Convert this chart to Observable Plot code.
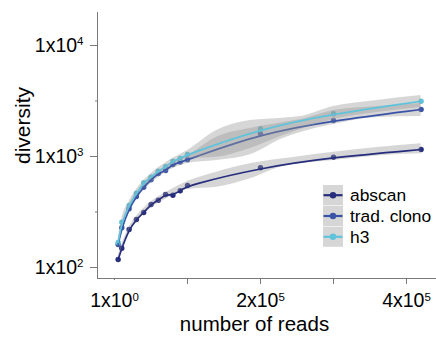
<!DOCTYPE html>
<html><head><meta charset="utf-8">
<script src="https://cdn.jsdelivr.net/npm/d3@7"></script>
<script src="https://cdn.jsdelivr.net/npm/@observablehq/plot@0.6"></script>
<style>
body{margin:0;background:#fff;}
#chart{width:436px;height:338px;}
</style>
</head><body><div id="chart"></div>
<script>
// ---- data ----
const seriesNames = ["abscan", "trad. clono", "h3"];
const seriesColors = ["#262d7d", "#3a53a6", "#5fc3db"];

const reads = [5000, 10000, 20000, 30000, 40000, 50000, 60000, 70000, 80000, 90000, 100000, 200000, 300000, 420000];
const abscan    = [118, 149, 220, 271, 313, 370, 404, 455, 448, 491, 548, 791, 986, 1156];
const tradClono = [161, 228, 338, 436, 529, 617, 703, 748, 847, 890, 934, 1601, 2110, 2650];
const h3        = [168, 256, 362, 467, 580, 651, 738, 810, 907, 960, 1042, 1776, 2425, 3148];

// confidence band (smoother) edges
const bandReads = [5000, 10000, 20000, 35000, 50000, 75000, 100000, 140000, 186000, 231000, 255000, 300000, 360000, 420000];
const abscanLo = [109, 140, 201, 276, 341, 430, 505, 529, 630, 813, 859, 920, 1011, 1057];
const abscanHi = [128, 161, 230, 315, 390, 492, 595, 722, 859, 953, 1000, 1093, 1205, 1301];
const tradLo   = [149, 213, 316, 449, 570, 748, 865, 920, 1035, 1452, 1644, 1943, 2245, 2292];
const tradHi   = [172, 244, 362, 514, 653, 856, 1021, 1493, 1786, 2023, 2153, 2596, 2820, 3000];
const h3Lo     = [157, 239, 341, 486, 612, 804, 959, 986, 1180, 1546, 1750, 2154, 2489, 2760];
const h3Hi     = [180, 274, 391, 556, 701, 920, 1133, 1715, 2110, 2213, 2292, 2820, 3199, 3545];

const xTicksLabeled = [1, 200000, 400000];
const xTickLabels = ["1x10^0", "2x10^5", "4x10^5"];
const xTicksMinor = [100000, 300000];
const yTicksLabeled = [100, 1000, 10000];
const yTickLabels = ["1x10^2", "1x10^3", "1x10^4"];
const yTicksMinor = [316.2, 3162];
const xDomain = [-23300, 441100];
const yDomain = [79.6, 19830];
const xTitle = "number of reads";
const yTitle = "diversity";

// ---- tables ----
const values = [abscan, tradClono, h3];
const los = [abscanLo, tradLo, h3Lo];
const his = [abscanHi, tradHi, h3Hi];
const points = seriesNames.flatMap((s, i) => reads.map((r, j) => ({series: s, reads: r, value: values[i][j]})));
const bands = seriesNames.flatMap((s, i) => bandReads.map((r, j) => ({series: s, reads: r, lo: los[i][j], hi: his[i][j]})));

const font = "'Liberation Sans', Arial, Helvetica, sans-serif";
const axisGray = "#7a7a7a";

const smoothMarks = seriesNames.flatMap((s, i) => [
  Plot.areaY(bands.filter(d => d.series === s), {x: "reads", y1: "lo", y2: "hi", fill: "#999", fillOpacity: 0.4, curve: "monotone-x"}),
  Plot.line(points.filter(d => d.series === s), {x: "reads", y: "value", stroke: seriesColors[i], strokeWidth: 1.7, curve: "basis"})
]);

const chart = Plot.plot({
  width: 436, height: 338,
  marginLeft: 97, marginRight: 0, marginTop: 12, marginBottom: 60,
  style: {fontFamily: font, background: "#fff", color: "black"},
  x: {type: "linear", domain: xDomain, label: null},
  y: {type: "log", domain: yDomain, label: null},
  color: {domain: seriesNames, range: seriesColors},
  marks: [
    Plot.dot(points, {x: "reads", y: "value", fill: "series", r: 2.7}),
    ...smoothMarks,
    Plot.ruleX([xDomain[0]], {stroke: axisGray}),
    Plot.ruleY([yDomain[0]], {stroke: axisGray}),
    Plot.axisY(yTicksLabeled, {tickSize: 7, tickPadding: 7, fontSize: 19.5, stroke: axisGray, fill: "black",
      tickFormat: d => yTickLabels[yTicksLabeled.indexOf(d)]}),
    Plot.axisY(yTicksMinor, {tickSize: 2, stroke: axisGray, tickFormat: () => ""}),
    Plot.axisX(xTicksLabeled.slice(1), {tickSize: 6, tickPadding: 9, fontSize: 19.5, stroke: axisGray, fill: "black",
      tickFormat: d => xTickLabels[xTicksLabeled.indexOf(d)]}),
    Plot.axisX(xTicksLabeled.slice(0, 1), {tickSize: 2, tickPadding: 13, fontSize: 19.5, stroke: axisGray, fill: "black",
      tickFormat: d => xTickLabels[xTicksLabeled.indexOf(d)]}),
    Plot.axisX(xTicksMinor, {tickSize: 6, stroke: axisGray, tickFormat: () => ""}),
    Plot.text([yTitle], {frameAnchor: "left", rotate: -90, dx: -74, dy: -20, fontSize: 21, textAnchor: "middle", lineAnchor: "middle", fill: "black"}),
    Plot.text([xTitle], {frameAnchor: "bottom", dx: -12.5, dy: 46, fontSize: 20.5, textAnchor: "middle", lineAnchor: "middle", fill: "black"})
  ]
});
document.getElementById("chart").appendChild(chart);

// superscripts in tick labels
d3.select(chart).selectAll("text").each(function() {
  const t = this.textContent;
  if (!t.includes("^")) return;
  const [base, sup] = t.split("^");
  const child = this.querySelector("tspan");
  if (child && child.getAttribute("dy") && !this.getAttribute("dy")) this.setAttribute("dy", child.getAttribute("dy"));
  this.textContent = "";
  const sel = d3.select(this);
  sel.append("tspan").text(base);
  sel.append("tspan").attr("dy", -6.5).attr("font-size", 11.5).text(sup);
});

// legend
const lg = d3.select(chart).append("g").attr("transform", "translate(323,185)")
  .attr("font-family", font).attr("text-anchor", "start");
seriesNames.forEach((s, i) => {
  const g = lg.append("g").attr("transform", `translate(0,${i * 20.8})`);
  g.append("rect").attr("width", 20).attr("height", 20.2).attr("fill", "#999").attr("fill-opacity", 0.4);
  g.append("line").attr("x1", 0.5).attr("x2", 19.5).attr("y1", 10.2).attr("y2", 10.2)
    .attr("stroke", seriesColors[i]).attr("stroke-width", 2.2);
  g.append("circle").attr("cx", 10).attr("cy", 10.2).attr("r", 3.2).attr("fill", seriesColors[i]);
  g.append("text").attr("x", 27).attr("y", 10.2).attr("dy", "0.35em").attr("font-size", 17.4)
    .attr("text-anchor", "start").attr("fill", "black").text(s);
});
</script>
</body></html>
